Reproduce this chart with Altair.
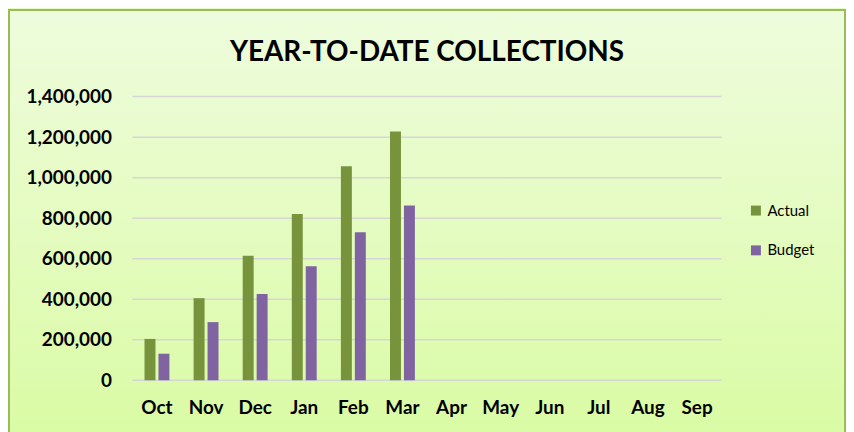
import altair as alt
import pandas as pd

months = ["Oct", "Nov", "Dec", "Jan", "Feb", "Mar", "Apr", "May", "Jun", "Jul", "Aug", "Sep"]
series = ["Actual", "Budget"]
actual = [204000, 405000, 615000, 821000, 1056000, 1228000]
budget = [131000, 287000, 426000, 563000, 730000, 863000]
y_ticks = [0, 200000, 400000, 600000, 800000, 1000000, 1200000, 1400000]
colors = ["#77933C", "#8064A2"]

rows = []
for m, a, b in zip(months, actual, budget):
    rows.append({"month": m, "series": "Actual", "value": a})
    rows.append({"month": m, "series": "Budget", "value": b})
df = pd.DataFrame(rows)

yscale = alt.Scale(domain=[0, 1400000], nice=False, zero=True)
yaxis = alt.Axis(title=None, values=y_ticks, format=",d", grid=False,
                 domain=False, ticks=False, labelFont="Lato", labelFontSize=19,
                 labelFontWeight="bold", labelColor="black", labelPadding=21,
                 zindex=1)

bg = alt.Chart(pd.DataFrame({"d": [0]})).mark_rect(
    fill=alt.LinearGradient(
        gradient="linear", x1=0, y1=0, x2=0, y2=1,
        stops=[alt.GradientStop(color="#EEFCDD", offset=0),
               alt.GradientStop(color="#D9FBA2", offset=1)],
    ),
    stroke="#9BBB59", strokeWidth=2,
).encode(
    x=alt.value(-124), x2=alt.value(716), y=alt.value(-87), y2=alt.value(360)
)

grid = alt.Chart(pd.DataFrame({"t": y_ticks})).mark_rule(
    color="#D6D6D6", strokeWidth=1.5
).encode(y=alt.Y("t:Q", scale=yscale, axis=yaxis))

bars = alt.Chart(df).mark_bar().encode(
    x=alt.X("month:N", sort=months,
            scale=alt.Scale(domain=months, paddingInner=0.493, paddingOuter=0.2465),
            axis=alt.Axis(title=None, labelAngle=0, domain=False, ticks=False,
                          labelFont="Lato", labelFontSize=19, labelFontWeight="bold",
                          labelColor="black", labelPadding=18, zindex=1)),
    xOffset=alt.XOffset("series:N", sort=series,
                        scale=alt.Scale(domain=series, paddingInner=0.214, paddingOuter=0)),
    y=alt.Y("value:Q", scale=yscale, axis=yaxis),
    color=alt.Color("series:N", sort=series,
                    scale=alt.Scale(domain=series, range=colors),
                    legend=alt.Legend(title=None, orient="none", legendX=619, legendY=107,
                                      symbolType="square", symbolSize=100,
                                      symbolStrokeWidth=0, labelFont="Lato",
                                      labelFontSize=15, labelColor="black",
                                      rowPadding=24, labelOffset=4, zindex=1)),
)

chart = alt.layer(bg, grid, bars).properties(
    width=592, height=285,
    title=alt.Title("YEAR-TO-DATE COLLECTIONS", font="Lato", fontSize=28,
                    fontWeight="bold", color="black", anchor="middle",
                    frame="group", offset=22, dy=80, zindex=1),
    autosize=alt.AutoSizeParams(type="none"),
    padding={"left": 125, "top": 88, "right": 125, "bottom": 60},
).configure(background="#E6FCC6").configure_view(stroke=None)

chart.save("out.html", embed_options={"renderer": "svg", "actions": False})
